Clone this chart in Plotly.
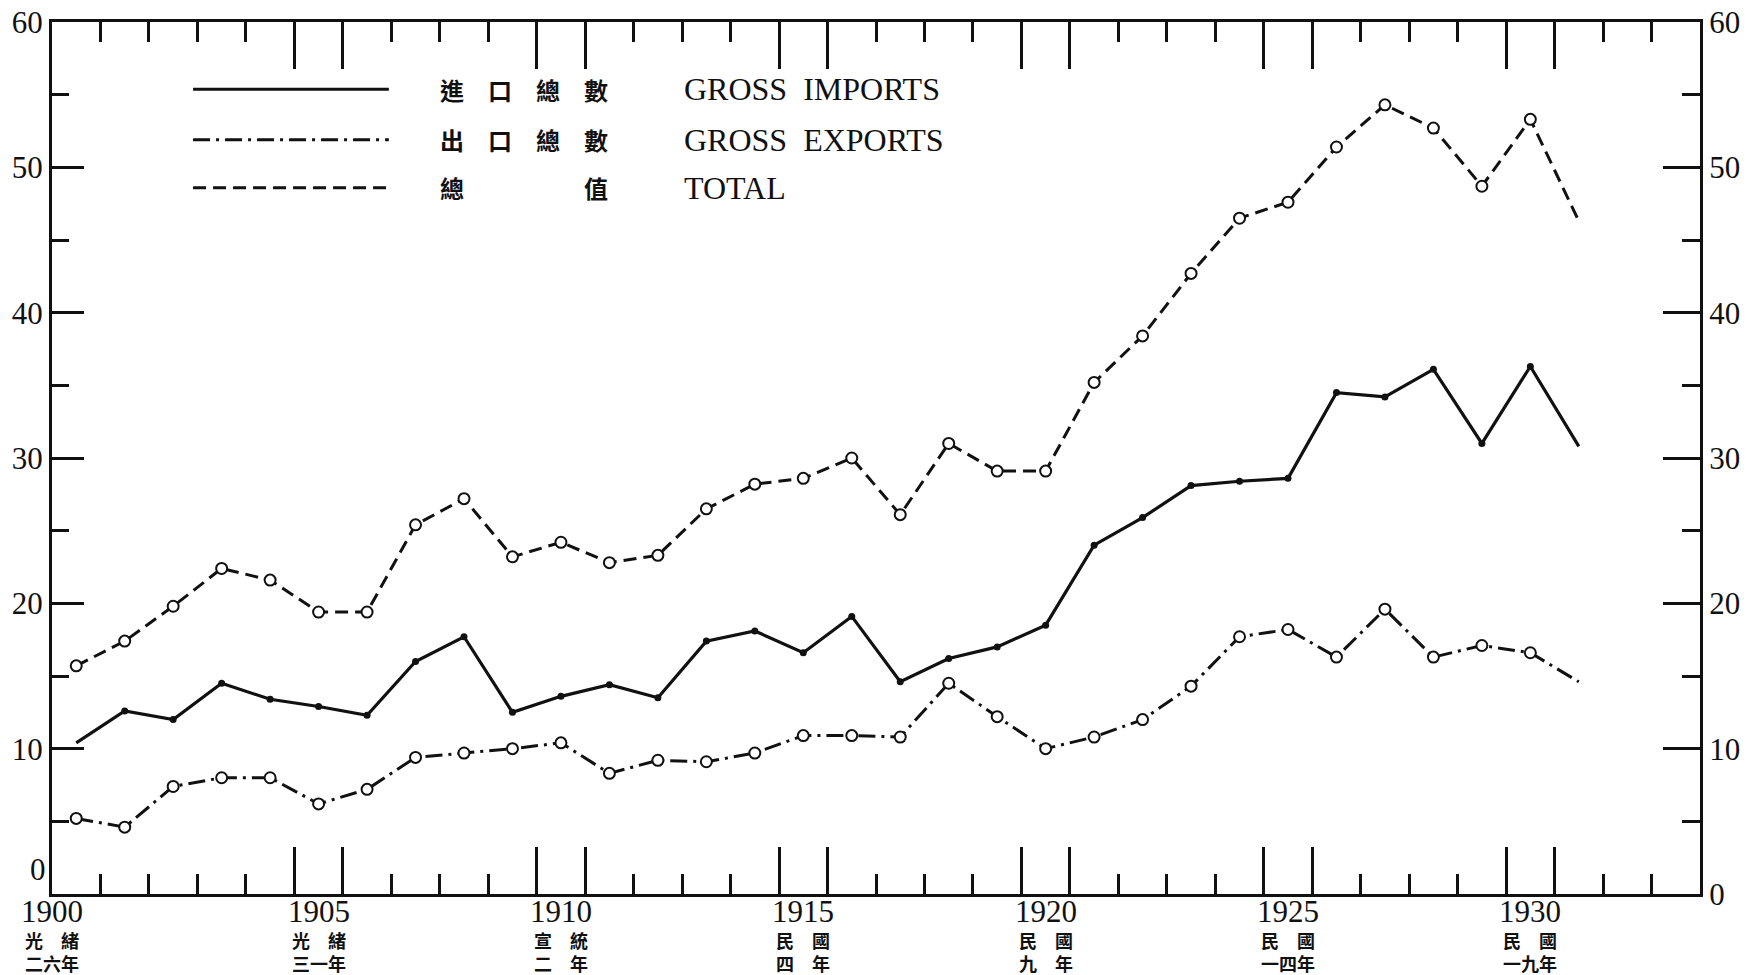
import plotly.graph_objects as go

# ---------------- data ----------------
years = list(range(1900, 1932))
imports = [10.4, 12.6, 12.0, 14.5, 13.4, 12.9, 12.3, 16.0, 17.7, 12.5,
           13.6, 14.4, 13.5, 17.4, 18.1, 16.6, 19.1, 14.6, 16.2, 17.0,
           18.5, 24.0, 25.9, 28.1, 28.4, 28.6, 34.5, 34.2, 36.1, 31.0,
           36.3, 30.8]
exports = [5.2, 4.6, 7.4, 8.0, 8.0, 6.2, 7.2, 9.4, 9.7, 10.0,
           10.4, 8.3, 9.2, 9.1, 9.7, 10.9, 10.9, 10.8, 14.5, 12.2,
           10.0, 10.8, 12.0, 14.3, 17.7, 18.2, 16.3, 19.6, 16.3, 17.1,
           16.6, 14.6]
total = [15.7, 17.4, 19.8, 22.4, 21.6, 19.4, 19.4, 25.4, 27.2, 23.2,
         24.2, 22.8, 23.3, 26.5, 28.2, 28.6, 30.0, 26.1, 31.0, 29.1,
         29.1, 35.2, 38.4, 42.7, 46.5, 47.6, 51.4, 54.3, 52.7, 48.7,
         53.3, 46.3]

label_years = [1900, 1905, 1910, 1915, 1920, 1925, 1930]
era_line1 = ["光　緒", "光　緒", "宣　統", "民　國", "民　國", "民　國", "民　國"]
era_line2 = ["二六年", "三一年", "二　年", "四　年", "九　年", "一四年", "一九年"]

y_major = [0, 10, 20, 30, 40, 50, 60]
y_minor = [5, 15, 25, 35, 45, 55]

legend_cn = ["進　口　總　數", "出　口　總　數", "總　　　　　值"]
legend_en = ["GROSS\u00a0\u00a0IMPORTS", "GROSS\u00a0\u00a0EXPORTS", "TOTAL"]

# ---------------- styling ----------------
SERIF = "Liberation Serif, Times New Roman, serif"
CJK = "Noto Sans CJK TC, Noto Sans CJK SC, sans-serif"
BLACK = "#111111"
X_RANGE = [1899.5, 1933.5]
Y_RANGE = [0, 60]

five_years = label_years[1:]
long_ticks = sorted([y - 0.5 for y in five_years] + [y + 0.5 for y in five_years])
short_ticks = [y + 0.5 for y in range(1900, 1933) if (y + 0.5) not in long_ticks]

fig = go.Figure()

# lines
fig.add_trace(go.Scatter(x=years, y=total, mode="lines",
                         line=dict(color=BLACK, width=3, dash="13px,7px"),
                         showlegend=False, hoverinfo="skip"))
fig.add_trace(go.Scatter(x=years, y=imports, mode="lines",
                         line=dict(color=BLACK, width=3.2),
                         showlegend=False, hoverinfo="skip"))
fig.add_trace(go.Scatter(x=years, y=exports, mode="lines",
                         line=dict(color=BLACK, width=3, dash="17px,6px,3px,6px"),
                         showlegend=False, hoverinfo="skip"))

# markers (no marker on final year; imports has none at first year)
fig.add_trace(go.Scatter(x=years[:-1], y=total[:-1], mode="markers",
                         marker=dict(symbol="circle", size=11, color="white",
                                     line=dict(color=BLACK, width=2)),
                         showlegend=False, hoverinfo="skip"))
fig.add_trace(go.Scatter(x=years[:-1], y=exports[:-1], mode="markers",
                         marker=dict(symbol="circle", size=11, color="white",
                                     line=dict(color=BLACK, width=2)),
                         showlegend=False, hoverinfo="skip"))
fig.add_trace(go.Scatter(x=years[1:-1], y=imports[1:-1], mode="markers",
                         marker=dict(symbol="circle", size=7, color=BLACK),
                         showlegend=False, hoverinfo="skip"))

# dummy trace to activate top/right axes
fig.add_trace(go.Scatter(x=[None], y=[None], xaxis="x2", yaxis="y2",
                         showlegend=False, hoverinfo="skip"))

# legend samples (paper coordinates)
legend_dash = ["solid", "17px,6px,3px,6px", "13px,7px"]
legend_y = [0.923, 0.865, 0.810]
for dash, ly in zip(legend_dash, legend_y):
    fig.add_shape(type="line", xref="paper", yref="paper",
                  x0=0.0856, x1=0.2044, y0=ly, y1=ly,
                  line=dict(color=BLACK, width=3, dash=dash))

annotations = []
for cn, en, ly in zip(legend_cn, legend_en, legend_y):
    annotations.append(dict(xref="paper", yref="paper", x=0.2865, y=ly,
                            text=cn, showarrow=False, xanchor="center", yanchor="middle",
                            font=dict(family=CJK, size=24, color=BLACK, weight="bold")))
    annotations.append(dict(xref="paper", yref="paper", x=0.382, y=ly,
                            text=en, showarrow=False, xanchor="left", yanchor="middle",
                            font=dict(family=SERIF, size=32, color=BLACK)))

for yr, l1, l2 in zip(label_years, era_line1, era_line2):
    xpos = X_RANGE[0] if yr == label_years[0] else yr
    annotations.append(dict(xref="x", yref="paper", x=xpos, y=0, yshift=2,
                            text=str(yr), showarrow=False, xanchor="center", yanchor="top",
                            font=dict(family=SERIF, size=31, color=BLACK)))
    annotations.append(dict(xref="x", yref="paper", x=xpos, y=-0.0655,
                            text=l1 + "<br>" + l2, showarrow=False,
                            xanchor="center", yanchor="middle", align="center",
                            font=dict(family=CJK, size=18, color=BLACK, weight="bold")))

# left-axis zero label sits slightly above the baseline (as in the original)
annotations.append(dict(xref="paper", yref="y", x=0, y=Y_RANGE[0], xshift=-4, yshift=5,
                        text=str(y_major[0]), showarrow=False, xanchor="right", yanchor="bottom",
                        font=dict(family=SERIF, size=31, color=BLACK)))

xaxis_common = dict(range=X_RANGE, showgrid=False, zeroline=False, showline=True,
                    linecolor=BLACK, linewidth=3, ticks="inside", tickmode="array",
                    tickvals=long_ticks, ticklen=47, tickwidth=2.5, tickcolor=BLACK,
                    showticklabels=False, automargin=False,
                    minor=dict(tickmode="array", tickvals=short_ticks, ticks="inside",
                               ticklen=20, tickwidth=2.5, tickcolor=BLACK, showgrid=False))

yaxis_common = dict(range=Y_RANGE, showgrid=False, zeroline=False, showline=True,
                    linecolor=BLACK, linewidth=3, ticks="inside", tickmode="array",
                    tickvals=y_major, tickwidth=3, tickcolor=BLACK, automargin=False,
                    tickfont=dict(family=SERIF, size=31, color=BLACK))

fig.update_layout(
    width=1752, height=975, autosize=False,
    margin=dict(l=52, r=52, t=22, b=81, pad=0),
    paper_bgcolor="white", plot_bgcolor="white",
    showlegend=False,
    xaxis=dict(**xaxis_common, side="bottom", anchor="y"),
    xaxis2=dict(**xaxis_common, side="top", anchor="y", overlaying="x", matches="x"),
    yaxis=dict(**yaxis_common, side="left", anchor="x", ticklen=32,
               ticktext=[""] + [str(v) for v in y_major[1:]],
               minor=dict(tickmode="array", tickvals=y_minor, ticks="inside",
                          ticklen=17, tickwidth=3, tickcolor=BLACK, showgrid=False)),
    yaxis2=dict(**yaxis_common, side="right", anchor="x", overlaying="y", ticklen=37,
                ticktext=[str(v) for v in y_major],
                minor=dict(tickmode="array", tickvals=y_minor, ticks="inside",
                           ticklen=18, tickwidth=3, tickcolor=BLACK, showgrid=False)),
    annotations=annotations,
)

fig.write_html("out.html", config={"displayModeBar": False},
               post_script="document.body.style.margin='0';document.body.style.overflow='hidden';")
